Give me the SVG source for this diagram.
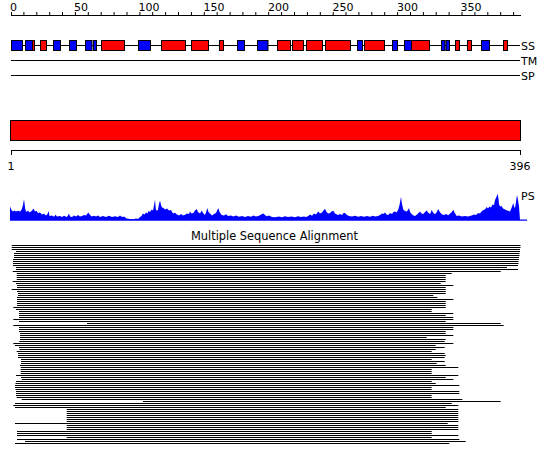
<svg xmlns="http://www.w3.org/2000/svg" width="550" height="465" viewBox="0 0 550 465">
<style>
text{font-family:"DejaVu Sans","Liberation Sans",sans-serif;font-size:11px;fill:#000}
.ln{stroke:#000;stroke-width:1;fill:none}
.h{fill:#ff0000;stroke:#000;stroke-width:1}
.e{fill:#0000ff;stroke:#000;stroke-width:1}
.msa{stroke:#000;stroke-width:1.2;fill:none}
</style>
<rect width="550" height="465" fill="#fff"/>
<g id="ruler">
<path class="ln" d="M11 15.5H521M11.5 12V15.5M23.9 12V15.5M36.8 12V15.5M49.7 12V15.5M62.5 12V15.5M75.4 12V15.5M88.3 12V15.5M101.2 12V15.5M114.1 12V15.5M127 12V15.5M139.9 12V15.5M152.7 12V15.5M165.6 12V15.5M178.5 12V15.5M191.4 12V15.5M204.3 12V15.5M217.2 12V15.5M230.1 12V15.5M242.9 12V15.5M255.8 12V15.5M268.7 12V15.5M281.6 12V15.5M294.5 12V15.5M307.4 12V15.5M320.3 12V15.5M333.2 12V15.5M346 12V15.5M358.9 12V15.5M371.8 12V15.5M384.7 12V15.5M397.6 12V15.5M410.5 12V15.5M423.4 12V15.5M436.2 12V15.5M449.1 12V15.5M462 12V15.5M474.9 12V15.5M487.8 12V15.5M500.7 12V15.5M513.6 12V15.5"/>
<text x="10" y="10.5">0</text>
<text x="74" y="10.5">50</text>
<text x="138.5" y="10.5">100</text>
<text x="203.5" y="10.5">150</text>
<text x="268" y="10.5">200</text>
<text x="332.5" y="10.5">250</text>
<text x="397" y="10.5">300</text>
<text x="460.5" y="10.5">350</text>
</g>
<g id="ss-track">
<path class="ln" d="M11 45.5H520"/>
<rect class="e" x="11.5" y="40.5" width="11" height="10"/>
<rect class="e" x="25.5" y="40.5" width="7" height="10"/>
<rect class="h" x="32.5" y="40.5" width="2" height="10"/>
<rect class="h" x="40.5" y="40.5" width="6" height="10"/>
<rect class="e" x="53.5" y="40.5" width="7" height="10"/>
<rect class="e" x="69.5" y="40.5" width="7" height="10"/>
<rect class="e" x="85.5" y="40.5" width="6.5" height="10"/>
<rect class="e" x="93.5" y="40.5" width="3" height="10"/>
<rect class="h" x="101.5" y="40.5" width="23" height="10"/>
<rect class="e" x="138.5" y="40.5" width="12" height="10"/>
<rect class="h" x="161.5" y="40.5" width="24" height="10"/>
<rect class="h" x="191.5" y="40.5" width="17" height="10"/>
<rect class="h" x="219.5" y="40.5" width="4" height="10"/>
<rect class="e" x="237.5" y="40.5" width="7" height="10"/>
<rect class="e" x="257.5" y="40.5" width="10.5" height="10"/>
<rect class="h" x="277.5" y="40.5" width="13" height="10"/>
<rect class="h" x="292.5" y="40.5" width="11" height="10"/>
<rect class="h" x="306.5" y="40.5" width="16" height="10"/>
<rect class="h" x="325.5" y="40.5" width="25" height="10"/>
<rect class="e" x="357.5" y="40.5" width="5" height="10"/>
<rect class="h" x="364.5" y="40.5" width="20" height="10"/>
<rect class="e" x="392.5" y="40.5" width="5" height="10"/>
<rect class="e" x="404.5" y="40.5" width="7" height="10"/>
<rect class="h" x="411.5" y="40.5" width="18" height="10"/>
<rect class="e" x="441.5" y="40.5" width="3.5" height="10"/>
<rect class="e" x="446" y="40.5" width="3.5" height="10"/>
<rect class="h" x="455.5" y="40.5" width="4" height="10"/>
<rect class="h" x="467.5" y="40.5" width="4" height="10"/>
<rect class="e" x="481.5" y="40.5" width="8" height="10"/>
<rect class="h" x="503.5" y="40.5" width="4" height="10"/>
<text x="521" y="49.5">SS</text>
</g>
<g id="tm-track">
<path class="ln" d="M11 60.5H520"/>
<text x="521" y="65">TM</text>
</g>
<g id="sp-track">
<path class="ln" d="M11 75.5H520"/>
<text x="521" y="80">SP</text>
</g>
<g id="domain-bar">
<rect x="10.5" y="120.5" width="510" height="20" fill="#ff0000" stroke="#000" stroke-width="1"/>
</g>
<g id="seq-ruler">
<path class="ln" d="M11 150.5H521M11.5 150.5V155M520.5 150.5V155"/>
<text x="11" y="170" text-anchor="middle">1</text>
<text x="520" y="170" text-anchor="middle">396</text>
</g>
<g id="ps-plot">
<path fill="#0000ff" d="M10 220L10 206.5L11.5 210L13 211.5L14.5 210.5L16 211.5L18 210.8L20 211.5L21.7 209.5L23 205L24 199L25.3 209.5L26.5 212L28 210.5L29.5 212.5L31 211.5L32.5 210L33.5 208.5L35 211.5L36.5 210.8L38 213L40 212.5L42 214.5L44 213.8L46 215.5L47.5 214L48.7 211L49.5 216L52 215.5L54 216.8L55.5 214.8L57 216.5L60 216L62 217L64 215.8L66.7 217L68 215.5L69 213.5L70 216.5L72 217L74 215.5L76 216.5L78 215L80 216.5L82 216L84 215L86 215.5L88.3 212.5L90 215L92 216.5L94 215.8L96 216.5L98 215.5L100 217L103 216L106 217L109 215.8L112 217L115 216.2L118 217L120 215.5L122 217L124 216.5L126.7 218.5L130 219L133.3 219.2L136 218.5L138 219L140 217L141.5 216L143 213.5L144.5 214.5L146 212.5L147.5 213.5L148.5 211L150 212L151.7 209.5L153 210.5L154.3 204L155 199.5L155.8 209L157 211L158 209.5L159 204L160 200.5L161 205L162 207.5L163.5 208L165 209.5L167 208.5L169 210.5L171 210L173 213.5L175 212.8L177 214.5L179 215.5L181 214L183 215.5L185 214.8L187 213.5L189 214L190 211.5L191.5 213.5L193.3 213L195 210.5L196.7 209L198 212L200 213.5L201.7 210.5L203 213L205 215L206.5 211L207.3 208L208.5 212L210 213.5L212 215.5L214 214L216 213L218.3 208L219.5 212L221.7 215L224 215.5L226 214.2L228 216L231 215.5L233.3 216.5L236 215.5L239 216.8L242 216L245 217L248 216L251 216.8L253.3 215.5L256 216.5L259 215.8L261 214.5L263.3 213.5L265 215L266.7 216.2L269 215.5L272 217L275 217.3L279 216.5L282 217.2L285 216.3L288 217L291.7 216.5L295 217.2L298 216.2L301 217L304 216.5L306 217L308.3 216L310 214.5L312 215.8L314 213.5L316 214.5L318.3 211.5L320 213.5L322 212.5L323.5 210.5L325 208.8L326.5 212L328.3 213.5L330 213L331.5 211.5L333.3 210.8L335 213.5L337 214.5L338.3 215L340 214L342 215L343.5 213L345 213L347 215L349 216L352 216.5L355 215.8L358.3 216.8L361 216L364 216.8L367 216L370 216.8L373 215.8L375 216.5L378 216L380 215L382 213.5L383.3 214L385 212.5L386.5 214.5L388.3 215L390 213L392 214L393.5 212L395 211.5L396.5 212.5L398.3 209.5L399.5 205L401 197L402 204L403.3 209.5L405 211L406.7 211.5L408 210L409 208L410 212L411.7 214L413.5 215.5L415 216L417 214.5L418.5 213L420 211.5L421.5 213.5L423.3 214L425 212L426.7 210.5L428 212.5L430 214L431 212L431.7 209.8L433 212.5L435 214.3L436.5 212.5L438.3 209L439.5 211.5L441.7 214.3L444 215L446 214L448.3 215.3L450 213.5L451.5 212.5L453.3 209.8L454.5 212.5L456.7 216L459 215.5L462 216.5L465 216L468 216.5L471.7 215.5L474 214.5L476 215L478.3 213L480 213.5L481.5 211.5L483.3 210L485 209.5L486.7 207L488 208.5L489.5 206.5L491 207.5L492.5 204.5L494 205L495 200L496 198L497.7 193.8L498.5 199L499 204L500 206.5L501.5 206L503 208.5L505 209.5L507 210.5L509 211L510 211.5L511.5 208L513.3 203L514.2 207L515 208L515.8 203L517 195L518 200L519 206.5L519.5 213L520 220Z"/>
<path d="M10 220.2H527" stroke="#0000ff" stroke-width="1.2"/>
<text x="521" y="200">PS</text>
</g>
<g id="msa">
<text x="274.5" y="240" text-anchor="middle" style="font-size:11.4px">Multiple Sequence Alignment</text>
<path class="msa" d="M11.7 245.5H520.5M11.7 247.5H520.5M11.7 249.5H520M16 251.5H520M14 253.5H519.5M14 255.5H519.5M14 257.5H519M13 259.5H519M13 261.5H518.5M13 263.5H518.5M13 265.5H518M16 267.5H507M16 269.5H518M12.7 271.5H500.7M16.7 273.5H451.7M16.7 275.5H445.7M16.7 277.5H445.7M16.7 279.5H445.7M12.7 281.5H445.7M16 283.5H440.7M17 285.5H453.3M17 287.5H445.7M11.7 289.5H445.7M17 291.5H445.7M18 293.5H445.7M18 295.5H433.3M17 297.5H437.3M17 299.5H453.3M17 301.5H445.7M17 303.5H445.7M17 305.5H445.7M13.3 307.5H445.7M16 309.5H431.7M19 311.5H431.7M19 313.5H453.3M19 315.5H445.7M19 317.5H453.3M13.3 319.5H453.3M19 321.5H445.7M87 323.5H500.7M13.3 325.5H503.7M19 327.5H453.3M19 329.5H453.3M19 331.5H445.7M20 333.5H445.7M20 335.5H453.3M20 337.5H426.7M20 339.5H445.7M19.3 341.5H444.7M13.3 343.5H453.3M15 345.5H435.7M19 347.5H444.7M19.5 349.5H435.7M16.7 351.5H431.7M18 353.5H444.7M18 355.5H445.7M18 357.5H444.7M21 359.5H431.7M21 361.5H444.7M21 363.5H436.7M20 365.5H445.7M20.7 367.5H458.3M20.7 369.5H431.7M20.7 371.5H431.7M20.7 373.5H431.7M16 375.5H458.3M21 377.5H445.7M21.7 379.5H453.3M16 381.5H431.7M15.5 383.5H435.7M15 385.5H459.3M15 387.5H431.7M15.5 389.5H431.7M16 391.5H459.3M16 393.5H459.3M16 395.5H431.7M16.7 397.5H431.7M21.7 399.5H462.3M143 401.5H500.7M15 403.5H451.7M13.3 405.5H458.3M15 407.5H445.7M66.7 409.5H458.3M66.7 411.5H458.3M66.7 413.5H458.3M66.7 415.5H458.3M66.7 417.5H458.3M66.7 419.5H458.3M66.7 421.5H458.3M15 423.5H447.7M66.7 425.5H458.3M66.7 427.5H458.3M66.7 429.5H458.3M17 431.5H431.7M17 433.5H431.7M17 435.5H458.3M66.7 437.5H431.7M17 439.5H459.3M25 441.5H465.7M15 443.5H449.3"/>
</g>
</svg>
